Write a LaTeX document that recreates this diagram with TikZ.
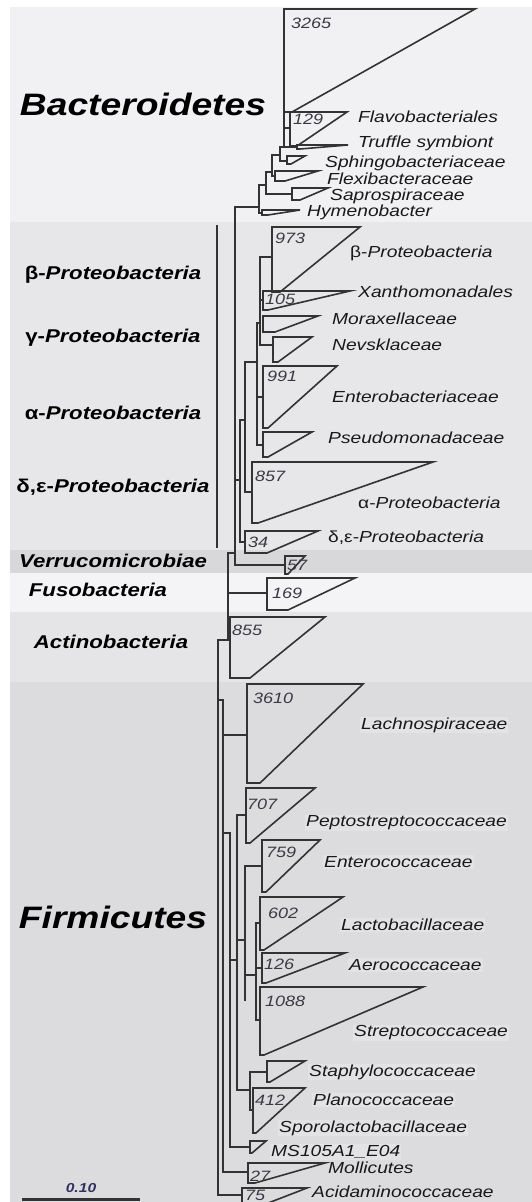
\documentclass[tikz,border=0pt]{standalone}
\usepackage{fontspec}
\newfontfamily\lab[FakeStretch=1.2]{Liberation Sans}
\definecolor{bgA}{HTML}{F1F1F3}
\definecolor{bgB}{HTML}{E7E7E9}
\definecolor{bgC}{HTML}{D8D8DA}
\definecolor{bgD}{HTML}{F4F4F6}
\definecolor{bgE}{HTML}{E5E5E7}
\definecolor{bgF}{HTML}{DCDCDE}
\definecolor{treeC}{HTML}{333333}
\definecolor{numC}{HTML}{3A3A44}
\definecolor{flabC}{HTML}{E3E3E5}
\newcommand\cladetri[5]{\draw[clade] (#1,#2) -- (#3,#2) -- (#5,#4) -- (#1,#4) -- cycle;}
\begin{document}
\begin{tikzpicture}[x=1pt,y=-1pt,
  br/.style={line width=1.6pt, draw=treeC, line cap=rect},
  clade/.style={line width=1.6pt, draw=treeC, line join=miter},
  tx/.style={font=\lab\itshape\fontsize{16}{18}\selectfont, anchor=west, inner sep=0pt, text=black!90},
  ftx/.style={tx, fill=flabC, inner sep=1pt},
  num/.style={font=\lab\itshape\fontsize{15}{17}\selectfont, anchor=west, inner sep=0pt, text=numC},
  big/.style={font=\lab\bfseries\itshape\fontsize{31}{34}\selectfont, inner sep=0pt},
  mid/.style={font=\lab\bfseries\fontsize{18.5}{20}\selectfont, inner sep=0pt}]
\useasboundingbox (0,0) rectangle (532,1202);
\clip (0,0) rectangle (532,1202);
% background bands
\fill[white] (0,0) rectangle (532,1202);
\fill[bgA] (10,7) rectangle (532,222);
\fill[bgB] (10,222) rectangle (532,550);
\fill[bgC] (10,550) rectangle (532,573);
\fill[bgD] (10,573) rectangle (532,612);
\fill[bgE] (10,612) rectangle (532,682);
\fill[bgF] (10,682) rectangle (532,1202);

% ---------- left group labels ----------
\node[big] (bac) at (143,104) {Bacteroidetes};
\node[mid] (beta) at (113,275) {β-\itshape Proteobacteria};
\node[mid] (gamma) at (113,338) {γ-\itshape Proteobacteria};
\node[mid] (alpha) at (113,413) {α-\itshape Proteobacteria};
\node[mid] (delta) at (113,487) {δ,ε-\itshape Proteobacteria};
\node[mid,font=\lab\bfseries\itshape\fontsize{18.5}{20}\selectfont] (verr) at (113,561) {Verrucomicrobiae};
\node[mid,font=\lab\bfseries\itshape\fontsize{18.5}{20}\selectfont] (fuso) at (98,590) {Fusobacteria};
\node[mid,font=\lab\bfseries\itshape\fontsize{18.5}{20}\selectfont] (actino) at (111,642) {Actinobacteria};
\node[big] (firm) at (113,917) {Firmicutes};
\coordinate (pbTop) at (217,225);
\coordinate (pbBot) at (217,548);
\draw[line width=1.8pt, draw=treeC] (pbTop) -- (pbBot);
% scale bar
\node[font=\lab\bfseries\itshape\fontsize{13}{14}\selectfont, text=numC!85!blue, inner sep=0pt] (scl) at (81,1188) {0.10};
\coordinate (sbL) at (22,1199);
\coordinate (sbR) at (140,1199);
\draw[line width=3pt, draw=treeC] (sbL) -- (sbR);

% ---------- tree branches ----------
% Bacteroidetes
\draw[br] (235,207) -- (235,565);
\draw[br] (235,207) -- (259,207);
\draw[br] (259,185) -- (259,213) -- (262,213);
\draw[br] (259,185) -- (266,185);
\draw[br] (266,172) -- (266,194) -- (292,194);
\draw[br] (266,172) -- (272,172);
\draw[br] (272,155) -- (272,176) -- (275,176);
\draw[br] (272,155) -- (280,155);
\draw[br] (280,147) -- (280,161) -- (287,161);
\draw[br] (280,147) -- (284,147);
\draw[br] (284,60) -- (284,147) -- (297,147);
\draw[br] (284,128) -- (290,128);
% Proteobacteria
\draw[br] (235,480) -- (240,480);
\draw[br] (240,420) -- (240,542) -- (245,542);
\draw[br] (240,420) -- (245,420);
\draw[br] (245,362) -- (245,492) -- (252,492);
\draw[br] (245,362) -- (257,362);
\draw[br] (257,323) -- (257,445) -- (263,445);
\draw[br] (257,397) -- (263,397);
\draw[br] (257,323) -- (260,323);
\draw[br] (260,257) -- (260,345) -- (273,345);
\draw[br] (260,257) -- (272,257);
\draw[br] (260,300) -- (263,300);
% Verrucomicrobiae, Fusobacteria, Actinobacteria
\draw[br] (235,565) -- (285,565);
\draw[br] (228,553) -- (235,553);
\draw[br] (228,553) -- (228,640);
\draw[br] (228,593) -- (267,593);
\draw[br] (228,630) -- (230,630);
% Firmicutes
\draw[br] (228,640) -- (218,640) -- (218,1195) -- (242,1195);
\draw[br] (218,700) -- (223,700) -- (223,1172) -- (248,1172);
\draw[br] (223,735) -- (247,735);
\draw[br] (223,833) -- (230,833) -- (230,1147) -- (250,1147);
\draw[br] (230,960) -- (237,960);
\draw[br] (237,815) -- (237,1090);
\draw[br] (237,815) -- (246,815);
\draw[br] (237,940) -- (245,940);
\draw[br] (245,866) -- (245,1000);
\draw[br] (245,866) -- (262,866);
\draw[br] (245,975) -- (256,975);
\draw[br] (256,923) -- (256,1020);
\draw[br] (256,923) -- (260,923);
\draw[br] (256,968) -- (262,968);
\draw[br] (256,1020) -- (260,1020);
\draw[br] (237,1090) -- (250,1090);
\draw[br] (250,1072) -- (250,1110);
\draw[br] (250,1072) -- (267,1072);
\draw[br] (250,1110) -- (253,1110);

% ---------- collapsed clades ----------
\cladetri{284}{9}{475}{112}{292}
\cladetri{290}{112}{347}{146}{297}
\cladetri{297}{145}{348}{149}{300}
\cladetri{287}{156}{305}{164}{291}
\cladetri{275}{171}{318}{181}{285}
\cladetri{292}{188}{328}{200}{300}
\cladetri{262}{210}{300}{215}{268}
\cladetri{272}{227}{360}{292}{280}
\cladetri{263}{291}{350}{310}{268}
\cladetri{263}{316}{318}{332}{275}
\cladetri{273}{337}{312}{362}{278}
\cladetri{263}{366}{337}{428}{268}
\cladetri{263}{432}{312}{457}{268}
\cladetri{252}{462}{433}{523}{258}
\cladetri{245}{531}{318}{553}{267}
\cladetri{285}{556}{305}{574}{288}
\cladetri{267}{578}{355}{610}{288}
\cladetri{230}{617}{325}{678}{250}
\cladetri{247}{684}{363}{783}{260}
\cladetri{246}{788}{315}{843}{250}
\cladetri{262}{840}{320}{892}{266}
\cladetri{260}{897}{343}{950}{264}
\cladetri{262}{953}{345}{983}{266}
\cladetri{260}{987}{423}{1055}{264}
\cladetri{267}{1061}{305}{1082}{270}
\cladetri{253}{1088}{305}{1133}{256}
\cladetri{250}{1141}{266}{1153}{252}
\cladetri{248}{1163}{325}{1183}{255}
\cladetri{242}{1188}{307}{1210}{250}

% ---------- clade sizes ----------
\node[num] (n3265) at (291,23) {3265};
\node[num] (n129) at (293,119) {129};
\node[num] (n973) at (275,238) {973};
\node[num] (n105) at (265,299) {105};
\node[num] (n991) at (267,376) {991};
\node[num] (n857) at (255,476) {857};
\node[num] (n34) at (248,542) {34};
\node[num] (n57) at (287,565) {57};
\node[num] (n169) at (272,593) {169};
\node[num] (n855) at (232,630) {855};
\node[num] (n3610) at (253,698) {3610};
\node[num] (n707) at (247,804) {707};
\node[num] (n759) at (266,852) {759};
\node[num] (n602) at (268,913) {602};
\node[num] (n126) at (264,964) {126};
\node[num] (n1088) at (265,1001) {1088};
\node[num] (n412) at (255,1100) {412};
\node[num] (n27) at (250,1176) {27};
\node[num] (n75) at (245,1195) {75};

% ---------- taxon labels ----------
\node[tx] (flavo) at (358,117) {Flavobacteriales};
\node[tx] (truf) at (358,143) {Truffle symbiont};
\node[tx] (sphi) at (325,163) {Sphingobacteriaceae};
\node[tx] (flex) at (327,179) {Flexibacteraceae};
\node[tx] (sapr) at (330,196) {Saprospiraceae};
\node[tx] (hyme) at (307,212) {Hymenobacter};
\node[tx] (tbeta) at (350,253) {\upshape β-\itshape Proteobacteria};
\node[tx] (xant) at (358,292) {Xanthomonadales};
\node[tx] (mora) at (332,319) {Moraxellaceae};
\node[tx] (nevs) at (332,345) {Nevsklaceae};
\node[tx] (ente) at (332,397) {Enterobacteriaceae};
\node[tx] (pseu) at (328,438) {Pseudomonadaceae};
\node[tx] (talpha) at (358,503) {\upshape α-\itshape Proteobacteria};
\node[tx] (tdelta) at (328,538) {\upshape δ,ε-\itshape Proteobacteria};
\node[ftx] (lach) at (360,725) {Lachnospiraceae};
\node[ftx] (pept) at (305,823) {Peptostreptococcaceae};
\node[ftx] (entc) at (323,862) {Enterococcaceae};
\node[ftx] (lact) at (340,925) {Lactobacillaceae};
\node[ftx] (aero) at (348,965) {Aerococcaceae};
\node[ftx] (strp) at (353,1033) {Streptococcaceae};
\node[ftx] (stap) at (308,1072) {Staphylococcaceae};
\node[ftx] (plan) at (312,1100) {Planococcaceae};
\node[ftx] (spor) at (278,1128) {Sporolactobacillaceae};
\node[ftx] (msa) at (270,1152) {MS105A1\_E04};
\node[tx] (moll) at (328,1168) {Mollicutes};
\node[tx] (acid) at (312,1192) {Acidaminococcaceae};
\end{tikzpicture}
\end{document}
